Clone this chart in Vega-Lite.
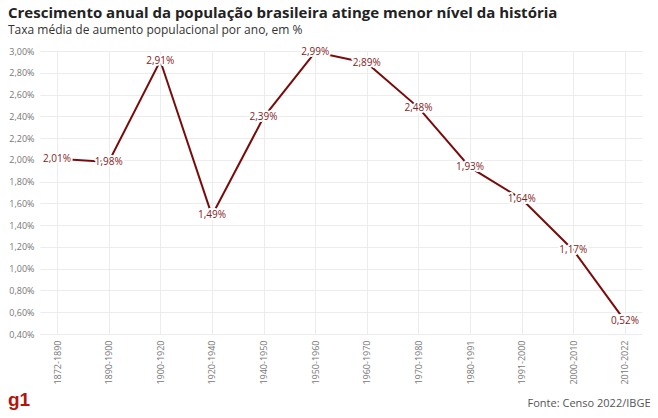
{
  "$schema": "https://vega.github.io/schema/vega-lite/v6.json",
  "width": 602,
  "height": 283,
  "padding": {"top": 6, "left": 8, "right": 8, "bottom": 4},
  "background": "white",
  "config": {
    "font": "Open Sans",
    "view": {"stroke": null},
    "locale": {"number": {"decimal": ",", "thousands": ".", "grouping": [3], "currency": ["R$", ""]}}
  },
  "title": {
    "text": "Crescimento anual da população brasileira atinge menor nível da história",
    "subtitle": "Taxa média de aumento populacional por ano, em %",
    "anchor": "start",
    "frame": "bounds",
    "font": "Open Sans",
    "fontSize": 15,
    "fontWeight": "bold",
    "color": "#222222",
    "subtitleFont": "Open Sans",
    "subtitleFontSize": 12,
    "subtitleColor": "#333333",
    "subtitlePadding": 4,
    "offset": 11
  },
  "data": {
    "values": [
      {"periodo": "1872-1890", "taxa": 0.0201},
      {"periodo": "1890-1900", "taxa": 0.0198},
      {"periodo": "1900-1920", "taxa": 0.0291},
      {"periodo": "1920-1940", "taxa": 0.0149},
      {"periodo": "1940-1950", "taxa": 0.0239},
      {"periodo": "1950-1960", "taxa": 0.0299},
      {"periodo": "1960-1970", "taxa": 0.0289},
      {"periodo": "1970-1980", "taxa": 0.0248},
      {"periodo": "1980-1991", "taxa": 0.0193},
      {"periodo": "1991-2000", "taxa": 0.0164},
      {"periodo": "2000-2010", "taxa": 0.0117},
      {"periodo": "2010-2022", "taxa": 0.0052}
    ]
  },
  "layer": [
    {
      "encoding": {
        "x": {
          "field": "periodo",
          "type": "ordinal",
          "sort": null,
          "scale": {"type": "point", "padding": 0.33},
          "axis": {
            "title": "Fonte: Censo 2022/IBGE",
            "titleAnchor": "end",
            "titleAlign": "right",
            "titleX": 610,
            "titleY": 72,
            "titleBaseline": "alphabetic",
            "titleFontSize": 11,
            "titleFontWeight": "normal",
            "titleColor": "#555555",
            "labelAngle": -90,
            "labelFontSize": 9,
            "labelColor": "#777777",
            "labelPadding": 6,
            "ticks": false,
            "domain": false,
            "grid": true,
            "gridColor": "#ececec"
          }
        },
        "y": {
          "field": "taxa",
          "type": "quantitative",
          "scale": {"domain": [0.004, 0.03], "nice": false, "zero": false},
          "axis": {
            "title": null,
            "format": ".2%",
            "values": [0.004, 0.006, 0.008, 0.010, 0.012, 0.014, 0.016, 0.018, 0.020, 0.022, 0.024, 0.026, 0.028, 0.030],
            "labelFontSize": 9,
            "labelColor": "#777777",
            "labelPadding": 6,
            "ticks": false,
            "domain": false,
            "gridColor": "#ececec"
          }
        }
      },
      "layer": [
        {
          "mark": {"type": "line", "color": "#7a0b0b", "strokeWidth": 2}
        },
        {
          "mark": {"type": "text", "fontSize": 10, "stroke": "white", "strokeWidth": 4, "strokeJoin": "round", "fill": "white"},
          "encoding": {"text": {"field": "taxa", "type": "quantitative", "format": ".2%"}}
        },
        {
          "mark": {"type": "text", "fontSize": 10, "color": "#852222"},
          "encoding": {"text": {"field": "taxa", "type": "quantitative", "format": ".2%"}}
        }
      ]
    },
    {
      "data": {"values": [{}]},
      "mark": {"type": "rule", "color": "#dddddd", "strokeWidth": 1, "x": -32, "x2": 610, "y": 336},
      "encoding": {}
    },
    {
      "data": {"values": [{}]},
      "mark": {"type": "text", "text": "g1", "x": -32, "y": 355, "align": "left", "baseline": "alphabetic", "fontSize": 19, "fontWeight": "bold", "color": "#b5140c", "font": "Arial"},
      "encoding": {}
    }
  ]
}
